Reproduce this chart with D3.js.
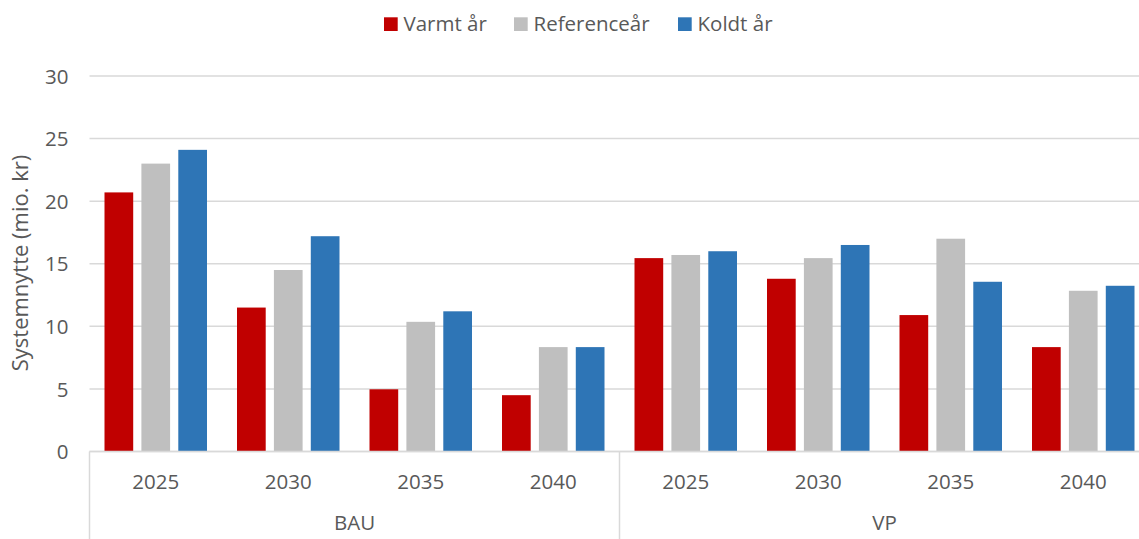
<!DOCTYPE html>
<html><head><meta charset="utf-8">
<script src="https://cdn.jsdelivr.net/npm/d3@7"></script>
<style>
html,body{margin:0;padding:0;background:#fff;}
text{font-family:"Open Sans",sans-serif;fill:#595959;}
</style></head>
<body>
<svg id="chart" width="1139" height="539"></svg>
<script>
const scenarios = ["BAU", "VP"];
const years = ["2025", "2030", "2035", "2040"];
const seriesNames = ["Varmt år", "Referenceår", "Koldt år"];
const seriesColors = ["#C00000", "#BFBFBF", "#2E75B6"];
const varmt = [20.7, 11.5, 4.97, 4.5, 15.45, 13.8, 10.9, 8.34];
const reference = [23.0, 14.5, 10.36, 8.34, 15.7, 15.45, 17.0, 12.84];
const koldt = [24.1, 17.2, 11.2, 8.34, 16.0, 16.5, 13.56, 13.24];
const yTicks = [0, 5, 10, 15, 20, 25, 30];
const yTitle = "Systemnytte (mio. kr)";

(function () {
const svg = d3.select("#chart");
const plotL = 89.5, plotR = 1149.5, plotT = 76, plotB = 451.5;

const cats = [];
scenarios.forEach(s => years.forEach(yr => cats.push(s + "|" + yr)));
const series = [varmt, reference, koldt];

const x0 = d3.scaleBand().domain(cats).range([plotL, plotR]).padding(0);
const y = d3.scaleLinear().domain([0, 30]).range([plotB, plotT]);
const innerW = 102.5;
const x1 = d3.scaleBand().domain(d3.range(3)).range([0, innerW]).paddingInner(0.222).paddingOuter(0);

// gridlines
svg.append("g").selectAll("line").data(yTicks).join("line")
  .attr("x1", plotL).attr("x2", 1139)
  .attr("y1", d => y(d)).attr("y2", d => y(d))
  .attr("stroke", "#d9d9d9").attr("stroke-width", 1.5);

// y tick labels
const yAxis = d3.axisLeft(y).tickValues(yTicks).tickSize(0).tickPadding(0);
const ya = svg.append("g").attr("transform", `translate(${plotL - 21},0)`).call(yAxis);
ya.select(".domain").remove();
ya.selectAll("text").attr("font-size", 20.5).attr("font-family", "Open Sans").attr("fill", "#595959").attr("dy", "0.35em");

// bars
const groups = svg.append("g").selectAll("g").data(cats).join("g")
  .attr("transform", d => `translate(${x0(d) + x0.bandwidth() / 2 - innerW / 2},0)`);
groups.selectAll("rect").data((d, i) => series.map((s, k) => ({k, v: s[i]}))).join("rect")
  .attr("x", d => x1(d.k)).attr("width", x1.bandwidth())
  .attr("y", d => y(d.v)).attr("height", d => y(0) - y(d.v))
  .attr("fill", d => seriesColors[d.k]);

// x axis line
svg.append("line").attr("x1", plotL).attr("x2", 1139).attr("y1", plotB).attr("y2", plotB)
  .attr("stroke", "#d9d9d9").attr("stroke-width", 1.5);

// year labels
const xa = svg.append("g").attr("transform", `translate(0,${plotB})`)
  .call(d3.axisBottom(x0).tickSize(0).tickPadding(0).tickFormat(d => d.split("|")[1]));
xa.select(".domain").remove();
xa.selectAll("text").attr("font-size", 20.5).attr("font-family", "Open Sans").attr("fill", "#595959")
  .attr("dy", "0.35em").attr("y", 30.5);

// scenario separators and labels
const scenX = d3.scaleBand().domain(scenarios).range([plotL, plotR]).padding(0);
const bounds = [plotL, scenX("VP"), plotR];
svg.append("g").selectAll("line").data(bounds).join("line")
  .attr("x1", d => d).attr("x2", d => d).attr("y1", plotB).attr("y2", 539)
  .attr("stroke", "#d9d9d9").attr("stroke-width", 1.5);
svg.append("g").selectAll("text").data(scenarios).join("text")
  .attr("x", d => scenX(d) + scenX.bandwidth() / 2).attr("y", 523).attr("dy", "0.35em")
  .attr("text-anchor", "middle").attr("font-size", 20.5).text(d => d);

// y title
svg.append("text").attr("transform", `translate(20,${(153 + 373) / 2}) rotate(-90)`)
  .attr("text-anchor", "middle").attr("dy", "0.35em").attr("font-size", 22).text(yTitle);

// legend
const legX = [384, 514, 678];
const leg = svg.append("g").selectAll("g").data(seriesNames).join("g")
  .attr("transform", (d, i) => `translate(${legX[i]},17.3)`);
leg.append("rect").attr("width", 13.7).attr("height", 13.7).attr("fill", (d, i) => seriesColors[i]);
leg.append("text").attr("x", 19.5).attr("y", 6.85).attr("dy", "0.35em").attr("font-size", 20.5).text(d => d);
})();
</script>
</body></html>
